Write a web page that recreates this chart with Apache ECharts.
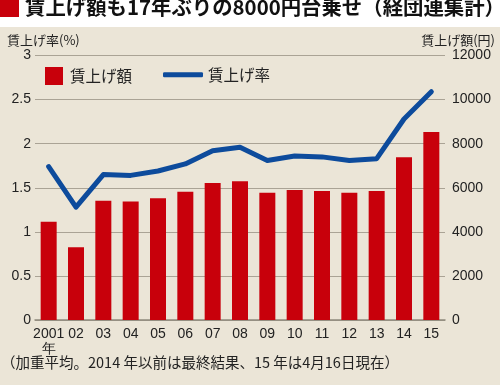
<!DOCTYPE html>
<html><head><meta charset="utf-8">
<script src="https://cdn.jsdelivr.net/npm/echarts@6/dist/echarts.min.js"></script>
<style>html,body{margin:0;padding:0;background:#fff}#c{width:500px;height:385px}</style>
</head><body><div id="c"></div>
<script>
const years = ['2001\n年','02','03','04','05','06','07','08','09','10','11','12','13','14','15'];
const wageAmount = [4460,3300,5410,5380,5520,5820,6210,6290,5770,5900,5850,5770,5850,7380,8530];
const wageRate = [1.74,1.28,1.65,1.64,1.69,1.77,1.92,1.96,1.81,1.86,1.85,1.81,1.83,2.28,2.59];
const rateTicks = [0,0.5,1,1.5,2,2.5,3];
const amountTicks = [0,2000,4000,6000,8000,10000,12000];

const jp = '"Noto Sans CJK JP", sans-serif';
const num = '"Liberation Sans", Arial, sans-serif';
const chart = echarts.init(document.getElementById('c'), null, {renderer:'canvas'});
chart.setOption({
  backgroundColor: '#ebe5d7',
  animation: false,
  graphic: [
    {type:'rect', shape:{x:0,y:0,width:500,height:27}, style:{fill:'#ffffff'}, z:-10},
    {type:'rect', shape:{x:0,y:0,width:19,height:17}, style:{fill:'#c8000b'}},
    {type:'text', left:25, top:-3, style:{text:'賃上げ額も17年ぶりの8000円台乗せ（経団連集計）', font:'bold 20.4px '+jp, fill:'#111'}},
    {type:'text', left:7, top:34, style:{text:'賃上げ率(%)', font:'13px '+jp, fill:'#222'}},
    {type:'text', right:5, top:34, style:{text:'賃上げ額(円)', font:'13px '+jp, fill:'#222'}},
    {type:'text', left:1, top:355, style:{text:'（加重平均。2014 年以前は最終結果、15 年は4月16日現在）', font:'14.5px '+jp, fill:'#222'}}
  ],
  legend: [
    {data:['賃上げ額'], left:45, top:67, padding:0, itemWidth:18, itemHeight:18, itemGap:0,
     icon:'rect', textStyle:{fontSize:15.5, fontFamily:jp, color:'#222', padding:[0,0,0,2]}},
    {data:['賃上げ率'], left:163, top:67, padding:0, itemWidth:40, itemHeight:5, icon:'roundRect',
     textStyle:{fontSize:15.5, fontFamily:jp, color:'#222'}}
  ],
  grid: {left:35, right:55, top:55.5, bottom:65, containLabel:false},
  xAxis: {
    type:'category', data:years, boundaryGap:true,
    axisLine:{lineStyle:{color:'#8f897c', width:1.5}},
    axisTick:{show:false},
    axisLabel:{fontSize:14, fontFamily:num, color:'#222', margin:7, lineHeight:15, interval:0}
  },
  yAxis: [
    {type:'value', min:0, max:3, interval:0.5, position:'left',
     axisLine:{show:false}, axisTick:{show:false},
     axisLabel:{fontSize:14, fontFamily:num, color:'#222', margin:4,
       formatter: v => rateTicks.includes(v) ? String(v) : ''},
     splitLine:{lineStyle:{color:'#aaa395', width:1}}},
    {type:'value', min:0, max:12000, interval:2000, position:'right',
     axisLine:{show:false}, axisTick:{show:false},
     axisLabel:{fontSize:14, fontFamily:num, color:'#222', margin:7,
       formatter: v => amountTicks.includes(v) ? String(v) : ''},
     splitLine:{show:false}}
  ],
  series: [
    {name:'賃上げ額', type:'bar', yAxisIndex:1, data:wageAmount, barWidth:16,
     itemStyle:{color:'#c8000b'}},
    {name:'賃上げ率', type:'line', yAxisIndex:0, data:wageRate, symbol:'none',
     lineStyle:{color:'#0d4b9c', width:5, cap:'round', join:'round'}, itemStyle:{color:'#0d4b9c'}, z:5}
  ]
});
</script></body></html>
